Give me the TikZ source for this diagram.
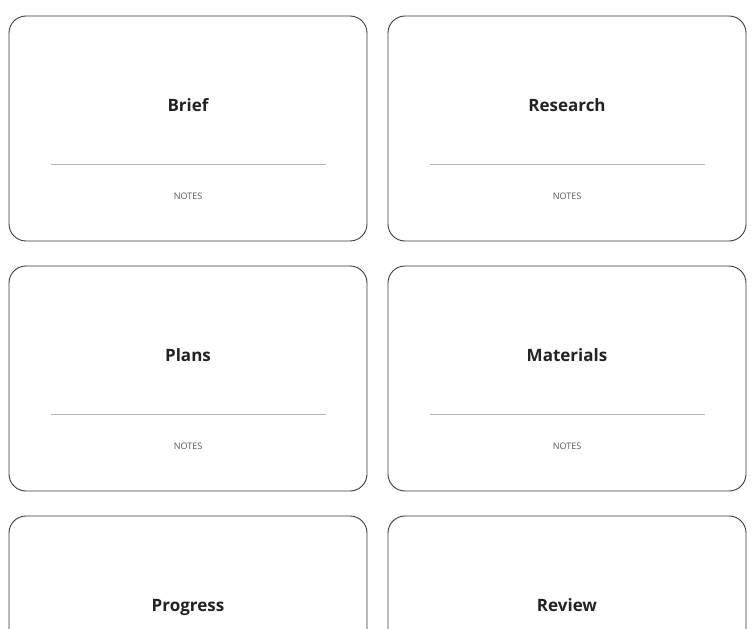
\documentclass[tikz,border=0pt]{standalone}
\usepackage{fontspec}
\setmainfont{Open Sans}
\usepackage{tikz}
\usetikzlibrary{calc}

\definecolor{cardline}{HTML}{3A3A3A}
\definecolor{rulegray}{HTML}{B4B4B4}
\definecolor{titletext}{HTML}{222222}
\definecolor{notetext}{HTML}{555555}

\begin{document}
\begin{tikzpicture}[x=1pt, y=-1pt,
    card/.style={draw=cardline, line width=0.9pt, rounded corners=17pt, minimum width=358pt, minimum height=225pt, inner sep=0pt},
    cardtitle/.style={font=\fontsize{17}{20}\selectfont\bfseries, text=titletext, anchor=base},
    cardnote/.style={font=\fontsize{9}{11}\selectfont, text=notetext, anchor=base},
    cardrule/.style={draw=rulegray, line width=0.9pt}]
            \useasboundingbox (0, 0) rectangle (756, 629);
            \clip (0, 0) rectangle (756, 629);

            \node [card] (brief) at (188, 128.5) {};
            \node [card] (research) at ($(brief) + (379, 0)$) {};
            \node [card] (plans) at ($(brief) + (0, 250)$) {};
            \node [card] (materials) at ($(plans) + (379, 0)$) {};
            \node [card] (progress) at ($(plans) + (0, 250)$) {};
            \node [card] (review) at ($(progress) + (379, 0)$) {};

            \node [cardtitle] (brieftitle) at ($(brief.north) + (0, 96)$) {Brief};
            \node [cardtitle] (researchtitle) at ($(research.north) + (0, 96)$) {Research};
            \node [cardtitle] (planstitle) at ($(plans.north) + (0, 96)$) {Plans};
            \node [cardtitle] (materialstitle) at ($(materials.north) + (0, 96)$) {Materials};
            \node [cardtitle] (progresstitle) at ($(progress.north) + (0, 96)$) {Progress};
            \node [cardtitle] (reviewtitle) at ($(review.north) + (0, 96)$) {Review};

            \draw [cardrule] ($(brief.north west) + (42, 149)$) -- ($(brief.north east) + (-41, 149)$);
            \draw [cardrule] ($(research.north west) + (42, 149)$) -- ($(research.north east) + (-41, 149)$);
            \draw [cardrule] ($(plans.north west) + (42, 149)$) -- ($(plans.north east) + (-41, 149)$);
            \draw [cardrule] ($(materials.north west) + (42, 149)$) -- ($(materials.north east) + (-41, 149)$);

            \node [cardnote] (briefnotes) at ($(brief.north) + (0, 184)$) {NOTES};
            \node [cardnote] (researchnotes) at ($(research.north) + (0, 184)$) {NOTES};
            \node [cardnote] (plansnotes) at ($(plans.north) + (0, 184)$) {NOTES};
            \node [cardnote] (materialsnotes) at ($(materials.north) + (0, 184)$) {NOTES};
        \end{tikzpicture}
\end{document}
